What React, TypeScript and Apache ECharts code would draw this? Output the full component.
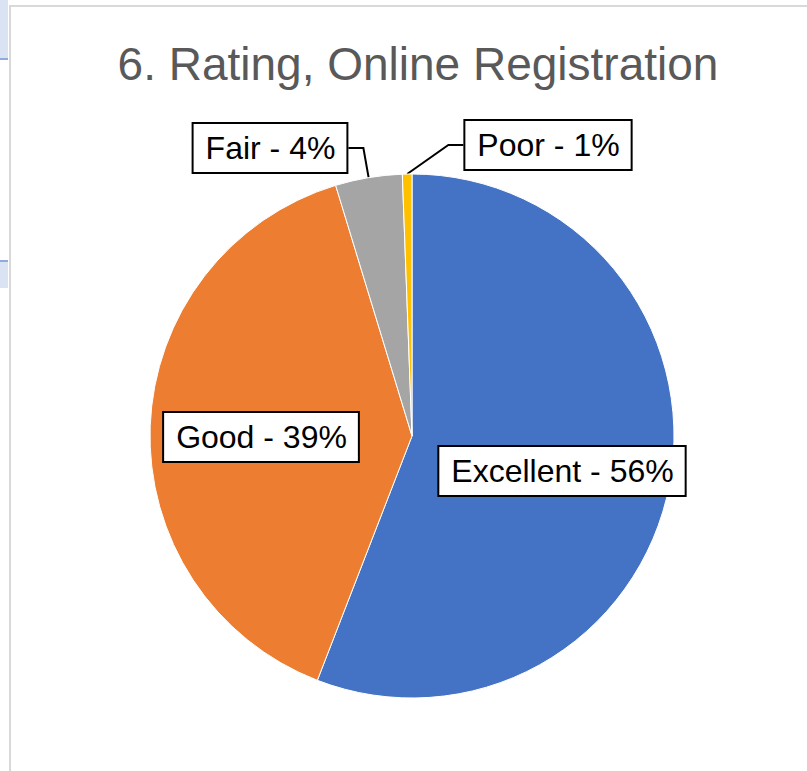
import React, { useEffect, useRef } from "react";
import * as echarts from "echarts";

// ---- data ----
const titleText = "6. Rating, Online Registration";
const categories = ["Excellent", "Good", "Fair", "Poor"];
const responses = [95, 67, 7, 1];
const sliceColors = ["#4472C4", "#ED7D31", "#A5A5A5", "#FFC000"];
const labelInside = [true, true, false, false];

// ---- layout (label box centres, px) ----
const labelAnchors: [number, number][] = [
  [562, 471],
  [261, 437],
  [270, 148],
  [548, 145],
];

const FONT = '"Liberation Sans", Arial, sans-serif';

export default function App() {
  const ref = useRef<HTMLDivElement>(null);

  useEffect(() => {
    if (!ref.current) return;
    const chart = echarts.init(ref.current, undefined, { renderer: "svg" });
    const center: [number, number] = [412, 436];
    const radius = 262;

    chart.setOption({
      animation: false,
      backgroundColor: "#ffffff",
      graphic: [
        // spreadsheet cells peeking out on the left
        { type: "rect", shape: { x: 0, y: 0, width: 8, height: 58 }, style: { fill: "#dae3f3" }, z: 0 },
        { type: "line", shape: { x1: 0, y1: 59, x2: 8, y2: 59 }, style: { stroke: "#8faadc", lineWidth: 2 }, z: 0 },
        { type: "line", shape: { x1: 0, y1: 261, x2: 8, y2: 261 }, style: { stroke: "#8faadc", lineWidth: 2 }, z: 0 },
        { type: "rect", shape: { x: 0, y: 262, width: 8, height: 26 }, style: { fill: "#dae3f3" }, z: 0 },
        // chart frame
        {
          type: "rect",
          shape: { x: 10, y: 6, width: 830, height: 800 },
          style: { fill: "none", stroke: "#d9d9d9", lineWidth: 2 },
          z: 0,
        },
        {
          type: "text",
          x: 418,
          y: 64,
          style: {
            text: titleText,
            fill: "#595959",
            fontSize: 46,
            fontFamily: FONT,
            align: "center",
            verticalAlign: "middle",
          },
          z: 10,
        },
      ],
      series: [
        {
          type: "pie",
          center,
          radius,
          startAngle: 90,
          clockwise: true,
          avoidLabelOverlap: false,
          silent: true,
          itemStyle: { borderColor: "#ffffff", borderWidth: 1 },
          label: {
            show: true,
            formatter: (p: any) => `${p.name} - ${Math.round(p.percent)}%`,
            color: "#000000",
            fontSize: 32,
            fontFamily: FONT,
            lineHeight: 34,
            backgroundColor: "#ffffff",
            borderColor: "#000000",
            borderWidth: 2,
            padding: [7, 11, 7, 12],
          },
          labelLine: {
            show: true,
            length: 10,
            length2: 10,
            lineStyle: { color: "#000000", width: 2 },
          },
          data: categories.map((name, i) => ({
            name,
            value: responses[i],
            itemStyle: { color: sliceColors[i] },
            label: { position: labelInside[i] ? "inside" : "outside" },
            labelLine: { show: !labelInside[i] },
          })),
          labelLayout: (params: any) => {
            const i = params.dataIndex;
            const [x, y] = labelAnchors[i];
            const w = params.labelRect ? params.labelRect.width : 0;
            const res: any = { x, y, align: "center", verticalAlign: "middle" };
            if (!labelInside[i]) {
              let start = params.labelLinePoints && params.labelLinePoints[0];
              if (!start) {
                const r = params.rect;
                start = [r.x + r.width / 2, r.y];
              }
              const dir = x < start[0] ? 1 : -1;
              const edgeX = x + (dir * w) / 2;
              const bendX = edgeX + dir * 15;
              res.labelLinePoints = [
                [start[0], start[1]],
                [bendX, y],
                [edgeX, y],
              ];
            }
            return res;
          },
        },
      ],
    });

    return () => chart.dispose();
  }, []);

  return (
    <div
      ref={ref}
      style={{ position: "fixed", left: 0, top: 0, width: 807, height: 771, background: "#fff" }}
    />
  );
}
